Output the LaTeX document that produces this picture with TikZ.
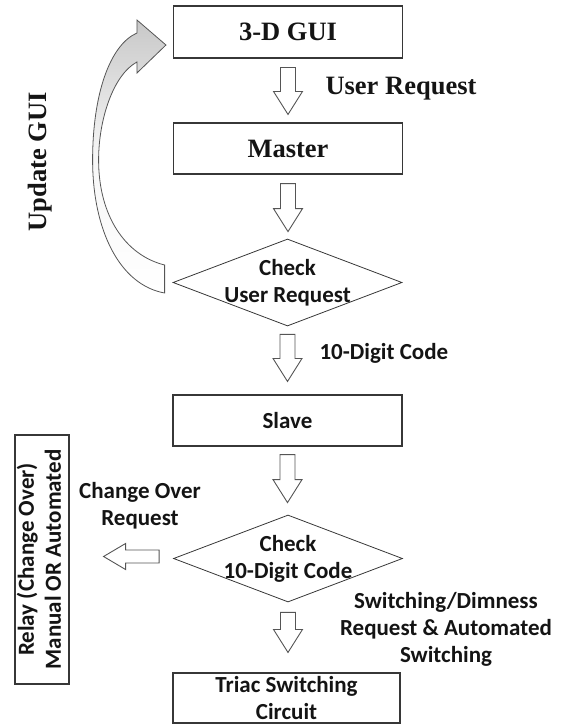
\documentclass[tikz,border=0pt]{standalone}
\usepackage{fontspec}
\setmainfont{Liberation Serif}
\newfontfamily\calfont{Carlito}
\usepackage{graphicx}
\usepackage{tikz}
\usetikzlibrary{shapes.geometric, calc, positioning}
\definecolor{cline}{RGB}{55, 55, 55}
\definecolor{carrow}{RGB}{85, 85, 85}
\definecolor{ctext}{RGB}{20, 20, 20}
\definecolor{cshade}{RGB}{200, 200, 200}

% hollow block arrow going down: from node, to node, top gap, bottom gap
\newcommand{\hollowdown}[4]{%
  \draw[hollow] let \p1=($(#1.south)+(0,-#3)$), \p2=($(#2.north)+(0,#4)$) in
    (\x1-7.5,\y1) -- (\x1+7.5,\y1) -- (\x1+7.5,\y2+23) -- (\x1+14.5,\y2+23)
    -- (\x1,\y2) -- (\x1-14.5,\y2+23) -- (\x1-7.5,\y2+23) -- cycle;}
% hollow block arrow going left
\newcommand{\hollowleft}[4]{%
  \draw[hollow] let \p1=($(#1.west)+(-#3,2)$), \p2=($(#2.east)+(#4,0)$) in
    (\x1,\y1+6.5) -- (\x2+22,\y1+6.5) -- (\x2+22,\y1+13) -- (\x2,\y1)
    -- (\x2+22,\y1-13) -- (\x2+22,\y1-6.5) -- (\x1,\y1-6.5) -- cycle;}

\begin{document}
\begin{tikzpicture}[x=1pt, y=1pt, color=ctext,
    serif/.style={font=\fontsize{26.5}{30}\selectfont\bfseries},
    sans/.style={font=\calfont\bfseries\fontsize{23}{27}\selectfont, align=center},
    box/.style={draw=cline, line width=1.1pt, rectangle, minimum width=229pt, inner sep=0pt},
    decision/.style={draw=cline, line width=0.8pt, diamond, minimum width=229pt, minimum height=87pt, inner sep=0pt},
    hollow/.style={draw=carrow, line width=0.9pt, fill=white, line join=miter}]
  \useasboundingbox (0,0) rectangle (563,-725);

  \node[box, serif, minimum height=52pt] (gui) at (288,-32) {3-D GUI};
  \node[box, serif, minimum height=51pt] (master) at (288,-148.5) {Master};
  \node[decision] (chk1) at (287.5,-282.5) {};
  \node[sans] (chk1txt) at (chk1) {Check\\User Request};
  \node[box, sans, minimum height=51pt] (slave) at (287.5,-420.5) {Slave};
  \node[decision] (chk2) at (288,-558.5) {};
  \node[sans] (chk2txt) at (chk2) {Check\\10-Digit Code};
  \node[box, sans, minimum width=227pt, minimum height=50pt] (triac) at (286.5,-698) {Triac Switching\\Circuit};
  \node[box, sans, minimum width=54pt, minimum height=249pt] (relay) at (42,-559.5)
    {\rotatebox{90}{\begin{tabular}{@{}c@{}}Relay (Change Over)\\Manual OR Automated\end{tabular}}};

  \hollowdown{gui}{master}{9}{8}
  \hollowdown{master}{chk1}{9}{7}
  \hollowdown{chk1}{slave}{8}{13}
  \hollowdown{slave}{chk2}{8}{12}
  \hollowdown{chk2}{triac}{10}{20}
  \hollowleft{chk2}{relay}{14}{34}

  % curved feedback arrow back to the GUI
  \draw[draw=carrow, line width=0.8pt, top color=cshade, bottom color=white, middle color=white!85!cshade]
    let \p1=($(chk1.west)+(-8,3.5)$), \p2=($(gui.west)+(-7,-13)$) in
    (\x1,\y1+14) -- (\x1,\y1-14)
    .. controls (\x1-45,\y1-6) and (\x1-72,\y1+49) .. (\x1-72,\y1+119)
    .. controls (\x1-72,\y1+184) and (\x1-55,\y1+234) .. (\x2-29,\y2+12)
    -- (\x2-29,\y2+25) -- (\x2,\y2) -- (\x2-29,\y2-28) -- (\x2-29,\y2-17)
    .. controls (\x2-53,\y2-30) and (\x1-66,\y1+159) .. (\x1-66,\y1+119)
    .. controls (\x1-66,\y1+64) and (\x1-40,\y1+24) .. (\x1,\y1+14) -- cycle;

  \node[serif, anchor=west] (ureq) at (322,-89) {User Request};
  \node[sans, anchor=west] (code) at (316,-353) {10-Digit Code};
  \node[sans] (chreq) at (140,-506) {Change Over\\Request};
  \node[sans] (swreq) at (446,-629) {Switching/Dimness\\Request \& Automated\\Switching};
  \node[serif, rotate=90] (upd) at (40,-162) {Update GUI};
\end{tikzpicture}
\end{document}
